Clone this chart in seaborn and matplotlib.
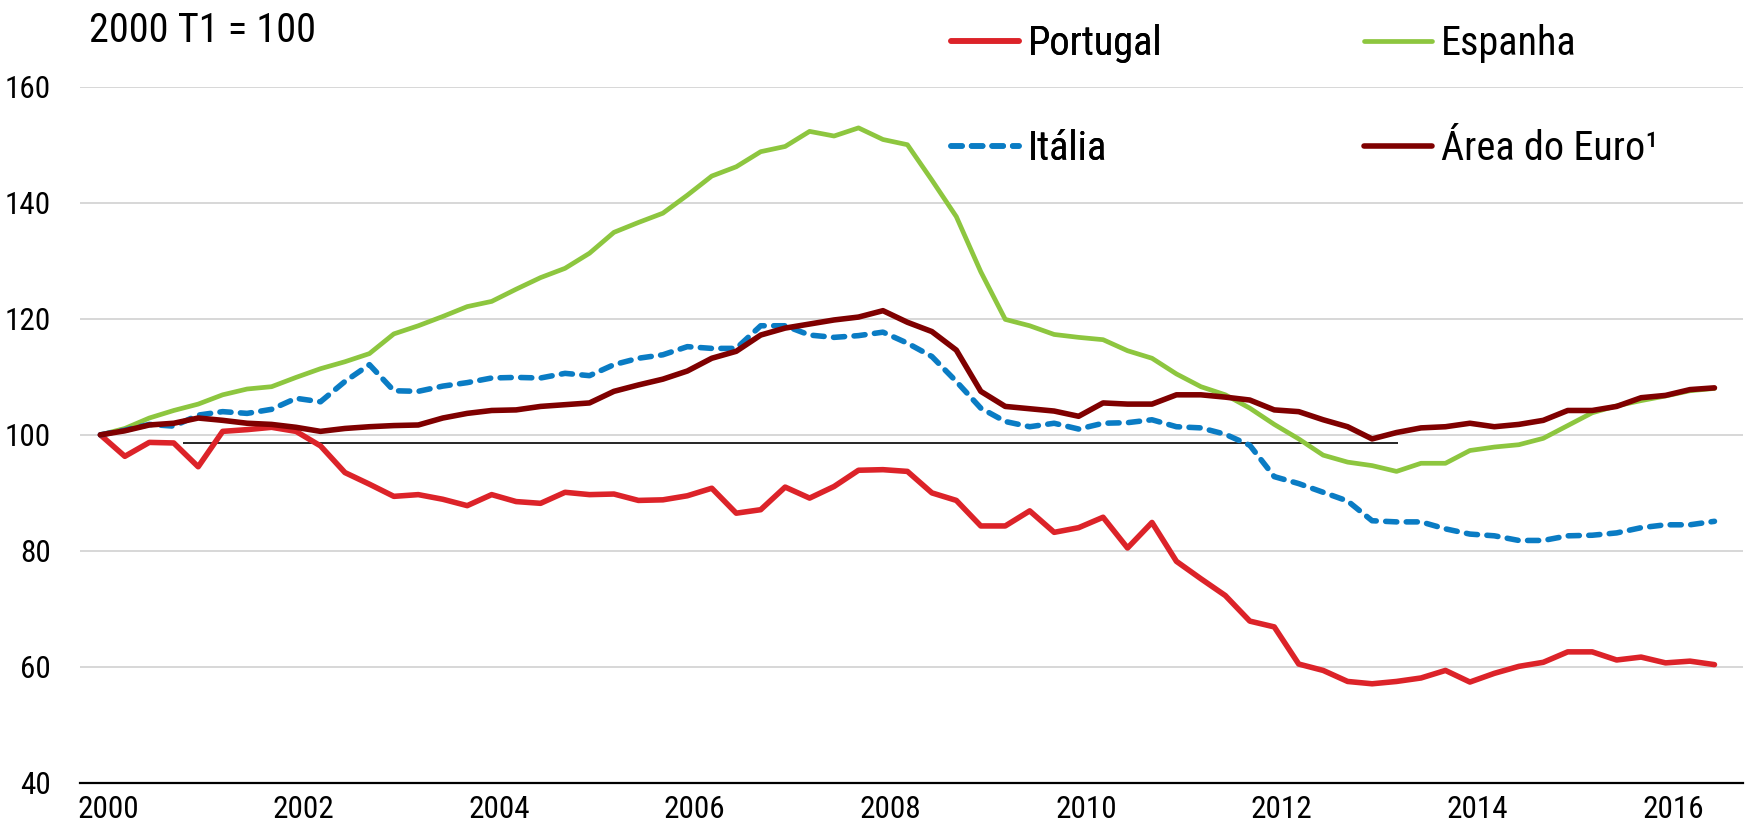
import numpy as np
import pandas as pd
import seaborn as sns
import matplotlib.pyplot as plt
import matplotlib.transforms as mtransforms
from matplotlib import font_manager as fm

# quarterly index, 2000 T1 = 100
quarters = pd.period_range('2000Q1', '2016Q3', freq='Q')

portugal = [100, 96.3, 98.7, 98.6, 94.5, 100.6, 100.9, 101.3, 100.6, 98.1, 93.5, 91.5, 89.4, 89.7, 88.9, 87.8, 89.7,
            88.5, 88.2, 90.1, 89.7, 89.8, 88.7, 88.8, 89.5, 90.8, 86.5, 87.1, 91.0, 89.1, 91.1, 93.9, 94.0, 93.7,
            90.0, 88.7, 84.3, 84.3, 86.9, 83.2, 84.0, 85.8, 80.5, 84.9, 78.2, 75.2, 72.3,
            67.9, 66.9, 60.5, 59.4, 57.5, 57.1, 57.5, 58.1, 59.4, 57.4, 58.9, 60.1, 60.8, 62.6, 62.6, 61.2, 61.7,
            60.7, 61.0, 60.4]
espanha = [100, 101.1, 102.9, 104.2, 105.3, 106.9, 107.9, 108.3, 109.9, 111.4, 112.6, 114.0, 117.4, 118.8, 120.4,
           122.1, 123.0,
           125.1, 127.1, 128.7, 131.3, 134.9, 136.6, 138.2, 141.3, 144.6, 146.2, 148.8, 149.7, 152.3, 151.5, 152.9,
           150.9, 150.0,
           143.9, 137.6, 128.1, 119.9, 118.8, 117.3, 116.8, 116.4, 114.5, 113.2, 110.5, 108.3, 106.9, 104.6, 101.8,
           99.3, 96.5,
           95.3, 94.7, 93.7, 95.1, 95.1, 97.3, 97.9, 98.3, 99.4, 101.6, 103.8, 105.0, 105.9, 106.7, 107.6, 108.0]
italia = [100, 100.8, 101.8, 101.5, 103.4, 104.0, 103.7, 104.4, 106.3, 105.7, 109.2, 112.1, 107.6, 107.5, 108.4,
          109.0, 109.8,
          109.9, 109.8, 110.6, 110.2, 112.1, 113.2, 113.8, 115.2, 114.9, 114.9, 118.8, 118.8, 117.2, 116.8, 117.1,
          117.7, 115.8,
          113.5, 109.2, 104.6, 102.3, 101.4, 102.0, 101.0, 102.0, 102.1, 102.6, 101.4, 101.2, 100.1, 98.2, 92.8,
          91.6, 90.1,
          88.6, 85.2, 85.0, 85.0, 83.8, 82.9, 82.6, 81.8, 81.8, 82.6, 82.7, 83.1, 84.0, 84.5, 84.5, 85.1]
area_euro = [100, 100.7, 101.7, 102.0, 102.9, 102.5, 102.0, 101.8, 101.3, 100.6, 101.1, 101.4, 101.6, 101.7, 102.9,
             103.7, 104.2,
             104.3, 104.9, 105.2, 105.5, 107.5, 108.6, 109.6, 111.0, 113.2, 114.4, 117.2, 118.4, 119.1, 119.8, 120.3,
             121.4, 119.4,
             117.8, 114.6, 107.5, 104.9, 104.5, 104.1, 103.2, 105.5, 105.3, 105.3, 106.9, 106.9, 106.5, 106.0, 104.3,
             104.0, 102.6,
             101.4, 99.3, 100.4, 101.2, 101.4, 102.0, 101.4, 101.8, 102.5, 104.2, 104.2, 104.9, 106.4, 106.8, 107.8,
             108.1]

series_names = ['Portugal', 'Espanha', 'Itália', 'Área do Euro¹']
year_ticks = list(range(2000, 2018))
year_labels = ['2000', '2002', '2004', '2006', '2008', '2010', '2012', '2014', '2016']
y_ticks = [40, 60, 80, 100, 120, 140, 160]
base_label = '2000 T1 = 100'

# thin black line left in the original chart
ref_line_y = 98.6
ref_line_span = (2001.05, 2013.47)


def pick_font():
    # the original uses a narrow sans; take one if the machine has it
    fonts = fm.fontManager.ttflist
    names = {f.name for f in fonts}
    for cand in ['Liberation Sans Narrow', 'Arial Narrow', 'Roboto Condensed', 'DejaVu Sans Condensed',
                 'Open Sans Condensed']:
        if cand in names:
            return cand, 'normal', True
    if any(f.name == 'DejaVu Sans' and str(f.stretch) == 'condensed' for f in fonts):
        return 'DejaVu Sans', 'condensed', True
    return 'Liberation Sans', 'normal', False


def plot_chart():
    sns.set_style('white')
    family, stretch, narrow = pick_font()
    plt.rcParams['font.family'] = [family, 'Liberation Sans', 'DejaVu Sans']
    plt.rcParams['font.stretch'] = stretch
    big, small = (29, 22.5) if narrow else (25.5, 20)

    fig = plt.figure(figsize=(17.5, 8.27), dpi=100, facecolor='w')
    ax = fig.add_axes([80 / 1750, 1 - 783 / 827, (1743 - 80) / 1750, (783 - 86.7) / 827])

    # points sit in the middle of the last month of each quarter
    t = np.asarray(quarters.year + (3 * quarters.quarter - 0.5) / 12, dtype=float)
    df = pd.DataFrame({'t': t, 'Portugal': portugal, 'Espanha': espanha,
                       'Itália': italia, 'Área do Euro¹': area_euro})

    colors = {'Portugal': '#dc2329', 'Espanha': '#8dc63f', 'Itália': '#0a7cc4', 'Área do Euro¹': '#7f0000'}
    widths = {'Portugal': 4.0, 'Espanha': 3.4, 'Itália': 4.0, 'Área do Euro¹': 4.0}

    ax.yaxis.grid(True, color='#d4d4d4', linewidth=1.3, zorder=0)
    ax.set_axisbelow(True)

    for name in series_names:
        sns.lineplot(data=df, x='t', y=name, color=colors[name], lw=widths[name], ax=ax, label=name,
                     legend=False, zorder=3)
    line_it = ax.lines[2]
    line_it.set_dashes((2.0, 1.7))
    line_it.set_dash_capstyle('round')
    for ln in ax.lines:
        ln.set_solid_capstyle('round')

    ax.hlines(ref_line_y, ref_line_span[0], ref_line_span[1], color='black', lw=1.2, zorder=2)

    ax.set_xlim(2000, 2017)
    ax.set_ylim(40, 160)
    ax.set_yticks(y_ticks)
    ax.set_xticks(year_ticks)
    ax.set_xticklabels([str(y) if str(y) in year_labels else '' for y in year_ticks], ha='left')
    ax.set_xlabel('')
    ax.set_ylabel('')

    for side in ['top', 'right', 'left']:
        ax.spines[side].set_visible(False)
    ax.spines['bottom'].set_linewidth(1.6)
    ax.spines['bottom'].set_color('black')
    ax.tick_params(axis='x', direction='in', length=6.5, width=1.3, color='black', labelsize=small, pad=9,
                   labelcolor='black')
    ax.tick_params(axis='y', length=0, labelsize=small, pad=21, labelcolor='black')
    offset = mtransforms.ScaledTranslation(-3 / 100, 0, fig.dpi_scale_trans)
    for lab in ax.get_xticklabels():
        lab.set_transform(lab.get_transform() + offset)

    fig.text(89 / 1750, 1 - 42 / 827, base_label, fontsize=big, va='baseline', ha='left', color='black')

    # two legend columns, each pinned where the original puts it
    handles = {ln.get_label(): ln for ln in ax.lines[:4]}
    legend_kw = dict(ncol=1, loc='upper left', frameon=False, fontsize=big, handlelength=1.68,
                     handletextpad=0.22, labelspacing=1.63, borderpad=0, borderaxespad=0,
                     labelcolor='black')
    col1 = fig.legend([handles['Portugal'], handles['Itália']], ['Portugal', 'Itália'],
                      bbox_to_anchor=(951 / 1750, 1 - 24 / 827), **legend_kw)
    fig.legend([handles['Espanha'], handles['Área do Euro¹']], ['Espanha', 'Área do Euro¹'],
               bbox_to_anchor=(1364 / 1750, 1 - 24 / 827), **legend_kw)
    fig.add_artist(col1)

    plt.savefig('out.png', dpi=100, facecolor='w')


if __name__ == '__main__':
    plot_chart()
